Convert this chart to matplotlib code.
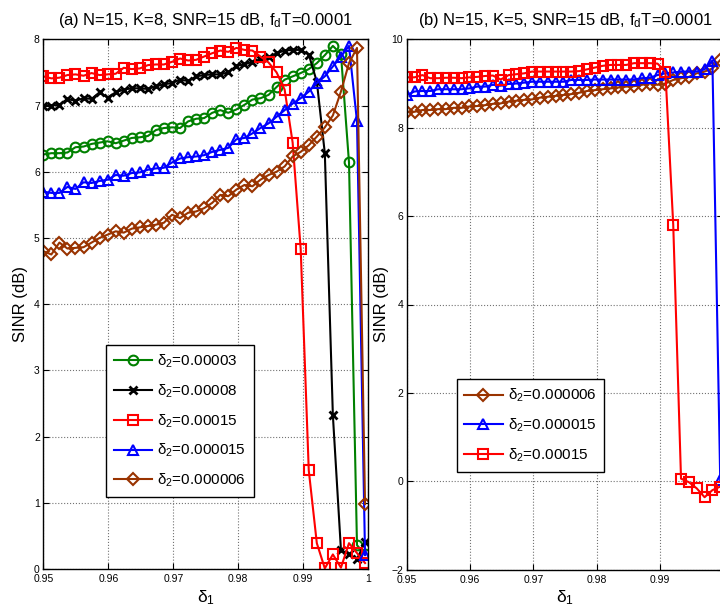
import matplotlib
matplotlib.use("Agg")
import matplotlib.pyplot as plt

plt.rcParams['font.family'] = ['Liberation Sans', 'DejaVu Sans']
plt.rcParams['mathtext.fontset'] = 'custom'
plt.rcParams['mathtext.rm'] = 'Liberation Sans'
plt.rcParams['mathtext.it'] = 'Liberation Sans'
plt.rcParams['mathtext.default'] = 'regular'

# delta_1 sweep (41 points)
delta1 = [0.95, 0.95124, 0.95248, 0.95371, 0.95495, 0.95619, 0.95743, 0.95866,
          0.9599, 0.96114, 0.96238, 0.96361, 0.96485, 0.96609, 0.96733, 0.96856,
          0.9698, 0.97104, 0.97228, 0.97351, 0.97475, 0.97599, 0.97723, 0.97846,
          0.9797, 0.98094, 0.98218, 0.98341, 0.98465, 0.98589, 0.98713, 0.98836,
          0.9896, 0.99084, 0.99208, 0.99331, 0.99455, 0.99579, 0.99703, 0.99826,
          0.9995]

# (a) K=8
sinr_a_00003 = [6.26, 6.28, 6.28, 6.29, 6.37, 6.38, 6.42, 6.44, 6.46, 6.43, 6.47,
                6.51, 6.52, 6.54, 6.63, 6.66, 6.67, 6.66, 6.76, 6.80, 6.81, 6.89,
                6.93, 6.89, 6.94, 7.01, 7.09, 7.11, 7.16, 7.28, 7.39, 7.44, 7.49,
                7.55, 7.64, 7.76, 7.90, 7.78, 6.14, 0.36, 0.22]
sinr_a_00008 = [7.00, 7.00, 7.01, 7.10, 7.07, 7.11, 7.10, 7.20, 7.12, 7.20, 7.24,
                7.26, 7.26, 7.25, 7.29, 7.32, 7.34, 7.39, 7.37, 7.44, 7.46, 7.47,
                7.47, 7.50, 7.60, 7.62, 7.66, 7.70, 7.73, 7.79, 7.83, 7.84, 7.84,
                7.77, 7.36, 6.28, 2.32, 0.29, 0.22, 0.15, 0.41]
sinr_a_00015 = [7.44, 7.41, 7.42, 7.46, 7.47, 7.45, 7.49, 7.46, 7.47, 7.48, 7.57,
                7.55, 7.56, 7.61, 7.62, 7.62, 7.66, 7.71, 7.68, 7.69, 7.74, 7.79,
                7.83, 7.81, 7.87, 7.84, 7.83, 7.74, 7.65, 7.50, 7.24, 6.44, 4.83,
                1.49, 0.39, 0.01, 0.22, 0.02, 0.39, 0.24, 0.09]
sinr_a_000015 = [5.70, 5.68, 5.68, 5.77, 5.74, 5.84, 5.83, 5.86, 5.88, 5.95, 5.94,
                 5.98, 5.99, 6.03, 6.05, 6.06, 6.14, 6.20, 6.22, 6.23, 6.25, 6.30,
                 6.33, 6.36, 6.49, 6.51, 6.58, 6.66, 6.73, 6.83, 6.93, 7.03, 7.11,
                 7.21, 7.34, 7.44, 7.59, 7.74, 7.90, 6.76, 0.21]
sinr_a_000006 = [4.80, 4.75, 4.93, 4.84, 4.85, 4.86, 4.93, 5.00, 5.05, 5.10, 5.08,
                 5.14, 5.16, 5.18, 5.20, 5.23, 5.35, 5.30, 5.38, 5.40, 5.45, 5.53,
                 5.65, 5.63, 5.73, 5.80, 5.78, 5.88, 5.95, 6.00, 6.08, 6.23, 6.30,
                 6.40, 6.53, 6.67, 6.85, 7.21, 7.64, 7.87, 0.98]

# (b) K=5
sinr_b_000006 = [8.36, 8.36, 8.40, 8.40, 8.42, 8.42, 8.45, 8.45, 8.48, 8.49, 8.51,
                 8.54, 8.55, 8.59, 8.61, 8.63, 8.64, 8.68, 8.70, 8.72, 8.74, 8.76,
                 8.79, 8.83, 8.85, 8.87, 8.89, 8.91, 8.93, 8.94, 8.97, 9.00, 8.97,
                 9.00, 9.08, 9.12, 9.15, 9.23, 9.27, 9.34, 9.53]
sinr_b_000015 = [8.74, 8.82, 8.83, 8.83, 8.87, 8.87, 8.87, 8.87, 8.89, 8.93, 8.93,
                 8.97, 8.95, 8.99, 9.00, 9.02, 9.04, 9.04, 9.04, 9.04, 9.04, 9.08,
                 9.08, 9.08, 9.09, 9.09, 9.09, 9.09, 9.09, 9.09, 9.12, 9.13, 9.19,
                 9.23, 9.25, 9.27, 9.27, 9.27, 9.32, 9.52, 0.02]
sinr_b_00015 = [9.14, 9.14, 9.19, 9.12, 9.12, 9.13, 9.13, 9.12, 9.14, 9.15, 9.17,
                9.18, 9.09, 9.19, 9.21, 9.23, 9.27, 9.27, 9.27, 9.27, 9.27, 9.27,
                9.28, 9.32, 9.36, 9.40, 9.42, 9.42, 9.42, 9.46, 9.46, 9.46, 9.45,
                9.27, 5.80, 0.06, -0.02, -0.16, -0.36, -0.20, -0.12]

x_ticks = [0.95, 0.96, 0.97, 0.98, 0.99, 1.0]
x_tick_labels_a = ['0.95', '0.96', '0.97', '0.98', '0.99', '1']
x_tick_labels_b = ['0.95', '0.96', '0.97', '0.98', '0.99', '']
y_ticks_a = [0, 1, 2, 3, 4, 5, 6, 7, 8]
y_ticks_b = [-2, 0, 2, 4, 6, 8, 10]

GREEN = '#008000'
BLACK = '#000000'
RED = '#ff0000'
BLUE = '#0000ff'
BROWN = '#993300'

fig = plt.figure(figsize=(7.2, 6.1), dpi=100)
W, H = 720.0, 610.0
ax1 = fig.add_axes([43.3 / W, 1 - 569.0 / H, 325.0 / W, (569.0 - 39.3) / H])
ax2 = fig.add_axes([406.7 / W, 1 - 569.7 / H, 316.7 / W, (569.7 - 39.3) / H])

line_kw = dict(linewidth=1.5, markerfacecolor='none', markeredgewidth=1.5,
               markersize=7)
x_kw = dict(linewidth=1.5, markeredgewidth=2.0, markersize=6)
d_kw = dict(linewidth=1.5, markerfacecolor='none', markeredgewidth=1.5,
            markersize=6.5)


def style_axes(ax, yticks, xlabels, title):
    ax.set_xlim(0.95, 1.0)
    ax.set_ylim(yticks[0], yticks[-1])
    ax.set_xticks(x_ticks)
    ax.set_xticklabels(xlabels)
    ax.set_yticks(yticks)
    ax.tick_params(direction='in', top=True, right=True, length=4,
                   width=0.8, labelsize=7.5)
    ax.tick_params(axis='x', pad=3.5)
    ax.tick_params(axis='y', pad=2.5)
    ax.grid(True, linestyle=':', color='0.45', linewidth=0.8)
    for s in ax.spines.values():
        s.set_linewidth(1.0)
    ax.set_title(title, fontsize=12, pad=10)
    ax.set_xlabel(r'$\delta_1$', fontsize=12.5)
    ax.set_ylabel('SINR (dB)', fontsize=12)


legend_kw = dict(loc='upper left', borderaxespad=0, fontsize=11, fancybox=False,
                 edgecolor='black', framealpha=1, handlelength=2.5,
                 handletextpad=0.35, labelspacing=0.81, borderpad=0.5)

# (a)
ax1.plot(delta1, sinr_a_00003, color=GREEN, marker='o', label=r'$\delta_2$=0.00003', **line_kw)
ax1.plot(delta1, sinr_a_00008, color=BLACK, marker='x', label=r'$\delta_2$=0.00008', **x_kw)
ax1.plot(delta1, sinr_a_00015, color=RED, marker='s', label=r'$\delta_2$=0.00015', **line_kw)
ax1.plot(delta1, sinr_a_000015, color=BLUE, marker='^', label=r'$\delta_2$=0.000015', **line_kw)
ax1.plot(delta1, sinr_a_000006, color=BROWN, marker='D', label=r'$\delta_2$=0.000006', **d_kw)
style_axes(ax1, y_ticks_a, x_tick_labels_a, r'(a) N=15, K=8, SNR=15 dB, f$_d$T=0.0001')
ax1.yaxis.set_label_coords(-0.047, 0.5)
ax1.xaxis.set_label_coords(0.5, -0.036)
leg1 = ax1.legend(bbox_to_anchor=(0.193, 0.423), **legend_kw)
leg1.get_frame().set_linewidth(1.0)

# (b)
ax2.plot(delta1, sinr_b_000006, color=BROWN, marker='D', label=r'$\delta_2$=0.000006', **d_kw)
ax2.plot(delta1, sinr_b_000015, color=BLUE, marker='^', label=r'$\delta_2$=0.000015', **line_kw)
ax2.plot(delta1, sinr_b_00015, color=RED, marker='s', label=r'$\delta_2$=0.00015', **line_kw)
style_axes(ax2, y_ticks_b, x_tick_labels_b, r'(b) N=15, K=5, SNR=15 dB, f$_d$T=0.0001')
ax2.yaxis.set_label_coords(-0.056, 0.5)
ax2.xaxis.set_label_coords(0.5, -0.036)
leg2 = ax2.legend(bbox_to_anchor=(0.158, 0.359), **legend_kw)
leg2.get_frame().set_linewidth(1.0)

fig.savefig('out.png', dpi=100)
